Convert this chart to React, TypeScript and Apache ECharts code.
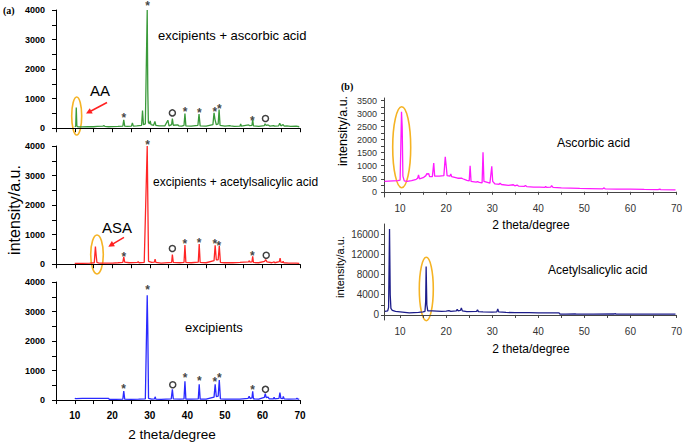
import React, { useEffect, useRef } from "react";
import * as echarts from "echarts";

// ---------- data (2θ in degree, intensity in a.u.) ----------
const excipAA: number[][] = [
  [10, 50], [10.25, 60], [10.4, 700], [10.55, 80], [10.8, 50], [12, 45], [13.5, 55], [15, 50], [16, 60],
  [17.5, 70], [17.8, 90], [18, 60], [19, 50], [20, 55], [21.5, 60], [22.8, 70], [23.05, 280], [23.3, 70],
  [24, 60], [25.1, 70], [25.35, 180], [25.6, 70], [26.5, 80], [27.8, 100], [28.05, 600], [28.3, 120],
  [28.8, 150], [29.3, 4000], [29.45, 1300], [29.6, 200], [29.9, 150], [30.1, 250], [30.3, 120], [31.0, 100],
  [31.35, 230], [31.6, 100], [32.5, 80], [34, 80], [34.8, 270], [35.1, 80], [35.8, 120], [36.0, 330],
  [36.25, 100], [37.5, 110], [37.7, 80], [38.5, 70], [39.1, 100], [39.35, 500], [39.6, 80], [41, 70],
  [42.8, 100], [43.1, 480], [43.4, 80], [45, 70], [46.8, 120], [47.1, 520], [47.35, 300], [47.7, 120],
  [48.2, 150], [48.45, 630], [48.7, 100], [50, 70], [51.3, 90], [51.5, 80], [52.5, 60], [54, 70],
  [54.2, 140], [54.4, 70], [56.3, 110], [56.6, 90], [57.2, 100], [57.4, 280], [57.6, 80], [59, 60],
  [60.5, 90], [60.7, 150], [61, 100], [61.5, 110], [62, 70], [63, 90], [63.2, 70], [64.3, 80], [64.6, 170],
  [64.9, 80], [65.5, 120], [65.8, 70], [66.5, 80], [67.5, 60], [69, 70], [69.8, 50],
];
const excipASA: number[][] = [
  [10, 30], [12, 30], [14, 35], [15.2, 50], [15.5, 600], [15.7, 300], [15.9, 60], [16.5, 40], [18, 40],
  [20, 40], [21.5, 50], [22.8, 60], [23.05, 250], [23.3, 70], [24.5, 50], [26.7, 60], [26.9, 90], [27.1, 50],
  [28.5, 60], [29.3, 4000], [29.45, 2250], [29.65, 100], [30.5, 60], [31.2, 70], [31.4, 170], [31.6, 60],
  [33, 40], [35.8, 60], [36.0, 330], [36.25, 60], [38, 50], [39.1, 60], [39.35, 650], [39.6, 60], [41, 50],
  [42.9, 70], [43.15, 680], [43.4, 60], [45, 50], [47.1, 120], [47.4, 640], [47.7, 150], [48.2, 150],
  [48.5, 620], [48.8, 60], [50, 50], [52, 50], [54, 60], [56.3, 80], [56.5, 120], [56.7, 70], [57.2, 80],
  [57.4, 270], [57.6, 60], [59, 50], [60.6, 100], [60.85, 160], [61.2, 80], [62.5, 50], [63.1, 80],
  [63.3, 50], [64.5, 90], [64.7, 210], [64.9, 70], [65.4, 60], [65.5, 100], [65.7, 50], [67, 40], [69, 40],
  [69.8, 30],
];
const excipOnly: number[][] = [
  [10, 60], [10.3, 50], [12, 60], [14, 55], [16, 60], [18, 55], [19, 60], [19.2, 25], [21, 25], [22.8, 30],
  [23.05, 300], [23.3, 30], [25, 25], [27, 30], [28.8, 40], [29.3, 3550], [29.45, 2400], [29.65, 60],
  [30.5, 30], [31.25, 40], [31.4, 110], [31.6, 30], [33, 25], [35.7, 40], [36.0, 360], [36.25, 40], [38, 30],
  [39.1, 40], [39.35, 640], [39.6, 30], [41, 30], [42.9, 40], [43.15, 530], [43.4, 30], [45, 30], [47.1, 100],
  [47.4, 530], [47.7, 120], [48.2, 130], [48.5, 680], [48.8, 40], [50, 30], [52, 30], [54, 30], [56.2, 60],
  [56.45, 130], [56.7, 50], [57.2, 70], [57.4, 295], [57.6, 40], [59, 30], [60.5, 90], [60.75, 215],
  [61.0, 80], [61.5, 100], [61.8, 40], [62.9, 40], [63.1, 90], [63.3, 40], [64.4, 60], [64.65, 250],
  [64.9, 60], [65.4, 50], [65.55, 120], [65.8, 40], [67, 30], [69, 40], [69.2, 60], [69.5, 30], [69.8, 30],
];
const ascorbic: number[][] = [
  [6.6, 400], [7.5, 410], [8.5, 420], [9.5, 430], [10.0, 450], [10.15, 1700], [10.3, 3075], [10.45, 2500],
  [10.6, 600], [10.9, 420], [11.5, 400], [12.5, 430], [13.5, 480], [13.8, 520], [14.0, 650], [14.2, 500],
  [15, 540], [15.6, 620], [15.8, 700], [16.0, 680], [16.2, 700], [16.4, 580], [17.0, 580], [17.3, 1100],
  [17.5, 600], [18.5, 600], [19.5, 620], [19.8, 1340], [20.0, 1000], [20.2, 620], [20.8, 600], [21.0, 680],
  [21.2, 580], [22.5, 520], [23.4, 520], [23.6, 500], [24.5, 440], [25.0, 420], [25.2, 1000], [25.4, 400],
  [26.5, 370], [26.8, 390], [27.2, 360], [27.8, 340], [28.0, 1520], [28.2, 400], [29.5, 330], [29.9, 980],
  [30.1, 400], [30.6, 300], [31.5, 290], [31.7, 330], [32.0, 280], [33.5, 250], [34.6, 270], [34.9, 230],
  [35.4, 260], [35.7, 220], [37.0, 210], [37.2, 240], [37.5, 200], [39, 180], [40.3, 180], [41.5, 170],
  [41.6, 210], [41.8, 170], [42.7, 180], [42.9, 240], [43.2, 170], [45, 150], [47, 140], [49, 130],
  [51, 125], [54, 115], [54.3, 150], [54.5, 115], [57, 105], [60, 100], [63, 90], [66, 85], [66.4, 100],
  [66.6, 85], [69.8, 70],
];
const acetylsalicylic: number[][] = [
  [6.7, 700], [7.3, 800], [7.5, 1500], [7.7, 17000], [7.85, 4000], [8.0, 1300], [8.3, 900], [9, 700],
  [10, 600], [11, 500], [12, 400], [13, 450], [14, 500], [15, 600], [15.4, 700], [15.55, 2700],
  [15.65, 9600], [15.8, 2000], [16.0, 800], [17, 800], [18, 750], [19, 700], [20, 750], [20.6, 850],
  [21, 700], [22.2, 800], [22.4, 1100], [22.6, 800], [23.1, 900], [23.3, 1400], [23.5, 800], [24.5, 650],
  [26.6, 700], [26.8, 1000], [27.0, 650], [28, 600], [30, 550], [31.0, 600], [31.2, 1200], [31.4, 600],
  [33, 500], [35, 450], [38, 450], [40, 420], [42, 400], [44.5, 400], [44.7, 180], [46, 180], [48, 200],
  [48.1, 250], [48.3, 180], [52, 180], [56.5, 190], [56.7, 260], [56.9, 180], [60, 170], [64, 170],
  [69.8, 150],
];

// marker positions (*: reflection marks, o: other phase marks)
const starsAA: number[][] = [[23.1, 440], [29.4, 4250], [39.4, 667], [43.2, 633], [47.3, 667], [48.5, 756], [57.3, 362]];
const ringsAA: number[][] = [[36.0, 519], [60.8, 329]];
const starsASA: number[][] = [[23.1, 339], [29.4, 4146], [39.3, 780], [43.1, 814], [47.3, 780], [48.4, 722], [57.3, 363]];
const ringsASA: number[][] = [[36.0, 532], [61.0, 305]];
const starsEx: number[][] = [[23.0, 473], [29.4, 3820], [39.4, 835], [43.2, 733], [47.3, 700], [48.5, 858], [57.4, 453]];
const ringsEx: number[][] = [[36.1, 520], [60.8, 362]];

// tick values
const xTicksA = [5, 10, 15, 20, 25, 30, 35, 40, 45, 50, 55, 60, 65, 70];
const xLabelsA = [10, 20, 30, 40, 50, 60, 70];
const yTicksA = [0, 500, 1000, 1500, 2000, 2500, 3000, 3500, 4000];
const yLabelsA = [0, 1000, 2000, 3000, 4000];
const xTicksB = [10, 15, 20, 25, 30, 35, 40, 45, 50, 55, 60, 65, 70];
const xLabelsB = [10, 20, 30, 40, 50, 60, 70];
const yTicksB1 = [0, 250, 500, 750, 1000, 1250, 1500, 1750, 2000, 2250, 2500, 2750, 3000, 3250, 3500];
const yLabelsB1 = [0, 500, 1000, 1500, 2000, 2500, 3000, 3500];
const yTicksB2 = [0, 2000, 4000, 6000, 8000, 10000, 12000, 14000, 16000];
const yLabelsB2 = [0, 4000, 8000, 12000, 16000];

const FONT = "Liberation Sans, Arial, sans-serif";
const plain = (v: number) => String(v);

export default function App() {
  const ref = useRef<HTMLDivElement>(null);
  useEffect(() => {
    if (!ref.current) return;
    const chart = echarts.init(ref.current, null, { renderer: "svg" });

    const axA = (gi: number, labels: boolean) => ({
      type: "value", gridIndex: gi, min: 5, max: 70,
      axisLine: { show: true, lineStyle: { color: "#000", width: 1 } },
      axisTick: { show: true, length: 4, customValues: xTicksA, lineStyle: { color: "#000" } },
      axisLabel: labels
        ? { show: true, customValues: xLabelsA, formatter: plain, fontSize: 10, fontWeight: "bold", color: "#000", fontFamily: FONT, margin: 7 }
        : { show: false },
      splitLine: { show: false },
    });
    const ayA = (gi: number, min: number) => ({
      type: "value", gridIndex: gi, min, max: 4000,
      axisLine: { show: true, lineStyle: { color: "#000", width: 1 } },
      axisTick: { show: true, length: 4, customValues: yTicksA, lineStyle: { color: "#000" } },
      axisLabel: { show: true, customValues: yLabelsA, formatter: plain, fontSize: 9, fontWeight: "bold", color: "#000", fontFamily: FONT, margin: 11 },
      splitLine: { show: false },
    });
    const axB = (gi: number) => ({
      type: "value", gridIndex: gi, min: 6.5, max: 70,
      axisLine: { show: true, lineStyle: { color: "#444", width: 1 } },
      axisTick: { show: true, length: 3, customValues: xTicksB, lineStyle: { color: "#444" } },
      axisLabel: { show: true, customValues: xLabelsB, formatter: plain, fontSize: 10, color: "#333", fontFamily: FONT, margin: 6 },
      splitLine: { show: false },
    });
    const ayB = (gi: number, min: number, max: number, ticks: number[], labels: number[], fs: number, mg: number) => ({
      type: "value", gridIndex: gi, min, max,
      axisLine: { show: true, lineStyle: { color: "#444", width: 1 } },
      axisTick: { show: true, length: 3, customValues: ticks, lineStyle: { color: "#444" } },
      axisLabel: { show: true, customValues: labels, formatter: plain, fontSize: fs, color: "#333", fontFamily: FONT, margin: mg },
      splitLine: { show: false },
    });

    const lineS = (i: number, data: number[][], color: string) => ({
      type: "line", xAxisIndex: i, yAxisIndex: i, data, showSymbol: false, symbol: "none",
      lineStyle: { color, width: 1.3 }, silent: true,
    });
    const starS = (i: number, data: number[][]) => ({
      type: "scatter", xAxisIndex: i, yAxisIndex: i, data, symbolSize: 1, clip: false,
      itemStyle: { color: "rgba(0,0,0,0)" },
      label: { show: true, position: "inside", formatter: "*", fontSize: 12, fontWeight: "bold", color: "#111", fontFamily: FONT, offset: [0, 3] },
    });
    const ringS = (i: number, data: number[][]) => ({
      type: "scatter", xAxisIndex: i, yAxisIndex: i, data, symbol: "circle", symbolSize: 6, clip: false,
      itemStyle: { color: "rgba(0,0,0,0)", borderColor: "#111", borderWidth: 1.5 },
    });

    const txt = (text: string, x: number, y: number, fontSize: number, extra: any = {}) => ({
      type: "text", x, y, ...extra,
      style: { text, fontSize, fontFamily: FONT, fill: "#000", align: "left", verticalAlign: "middle", ...(extra.style || {}) },
    });
    const ell = (cx: number, cy: number, rx: number, ry: number) => ({
      type: "ellipse", shape: { cx, cy, rx, ry },
      style: { fill: "none", stroke: "#f5b324", lineWidth: 1.6 },
    });

    const option: any = {
      animation: false,
      grid: [
        { left: 56, top: 10, width: 244, height: 120 },
        { left: 56, top: 146, width: 244, height: 120 },
        { left: 56, top: 282, width: 244, height: 121 },
        { left: 384, top: 98, width: 294, height: 99 },
        { left: 384, top: 224, width: 294, height: 96 },
      ],
      xAxis: [axA(0, false), axA(1, false), axA(2, true), axB(3), axB(4)],
      yAxis: [
        ayA(0, -60), ayA(1, -60), ayA(2, -100),
        ayB(3, -200, 3600, yTicksB1, yLabelsB1, 9, 7),
        ayB(4, -1000, 18000, yTicksB2, yLabelsB2, 10, 5),
      ],
      series: [
        lineS(0, excipAA, "#3a9a3a"),
        lineS(1, excipASA, "#ff2626"),
        lineS(2, excipOnly, "#2a2aff"),
        lineS(3, ascorbic, "#ff1aff"),
        lineS(4, acetylsalicylic, "#1c1c8a"),
        starS(0, starsAA), ringS(0, ringsAA),
        starS(1, starsASA), ringS(1, ringsASA),
        starS(2, starsEx), ringS(2, ringsEx),
      ],
      graphic: [
        txt("(a)", 3, 10, 10, { style: { fontFamily: "Liberation Serif, Times New Roman, serif", fontWeight: "bold" } }),
        txt("(b)", 341, 86, 10, { style: { fontFamily: "Liberation Serif, Times New Roman, serif", fontWeight: "bold" } }),
        txt("excipients + ascorbic acid", 158, 35, 13),
        txt("excipients + acetylsalicylic acid", 153, 182, 12),
        txt("excipients", 185, 327, 13),
        txt("AA", 90, 90, 15),
        txt("ASA", 102, 227, 15),
        txt("Ascorbic acid", 557, 143, 12.3),
        txt("Acetylsalicylic acid", 548, 270, 12),
        txt("2 theta/degree", 172, 434, 13.6, { style: { align: "center" } }),
        txt("2 theta/degree", 531, 225, 12, { style: { align: "center" } }),
        txt("2 theta/degree", 531, 349, 12, { style: { align: "center" } }),
        txt("intensity/a.u.", 14, 210, 16, { rotation: Math.PI / 2, style: { align: "center" } }),
        txt("intensity/a.u.", 343, 131, 12.5, { rotation: Math.PI / 2, style: { align: "center" } }),
        txt("intensity/a.u.", 340, 267, 11, { rotation: Math.PI / 2, style: { align: "center" } }),
        ell(76.7, 116, 5, 19),
        ell(97, 254.5, 6.3, 19.5),
        ell(401.7, 147.2, 9, 40.5),
        ell(426.3, 289, 7, 31.7),
        { type: "line", shape: { x1: 107, y1: 102.5, x2: 91, y2: 111 }, style: { stroke: "#ff2020", lineWidth: 1.5 } },
        { type: "polygon", shape: { points: [[86, 113.6], [92.7, 113.6], [89.8, 108.2]] }, style: { fill: "#ff2020" } },
        { type: "line", shape: { x1: 124, y1: 237.3, x2: 113, y2: 243.8 }, style: { stroke: "#ff2020", lineWidth: 1.5 } },
        { type: "polygon", shape: { points: [[108.3, 246.7], [114.9, 246.2], [111.9, 241.0]] }, style: { fill: "#ff2020" } },
      ],
    };
    chart.setOption(option);
    return () => chart.dispose();
  }, []);
  return (
    <div
      ref={ref}
      style={{ position: "fixed", left: 0, top: 0, width: 685, height: 442, background: "#fff" }}
    />
  );
}
